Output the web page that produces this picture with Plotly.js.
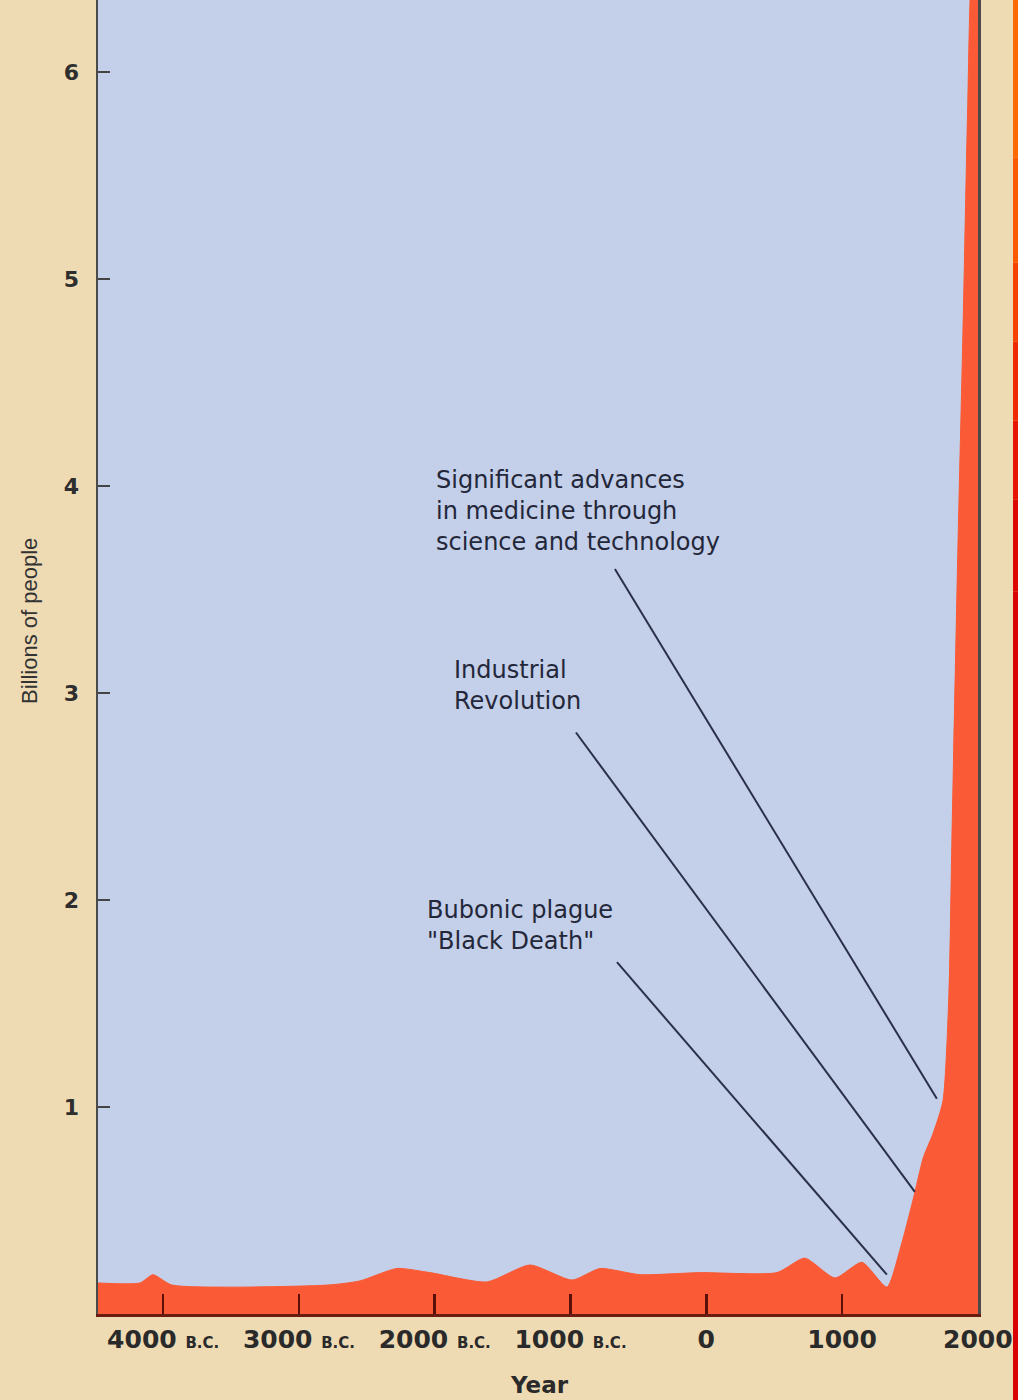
<!DOCTYPE html>
<html>
<head>
<meta charset="utf-8">
<script src="https://cdn.plot.ly/plotly-3.0.1.min.js"></script>
<style>
  html, body { margin: 0; padding: 0; background: #eedbb3; }
  #chart { width: 1018px; height: 1400px; }
</style>
</head>
<body>
<div id="chart"></div>
<script>
// ---- data ----
const years = [-4480, -4171, -4075, -3935, -2786, -2551, -2278, -2035, -1616, -1299, -989, -783, -489, -47, 520, 726, 947, 1146, 1330, 1426, 1522, 1600, 1669, 1743, 1787, 1809, 1853, 1890, 1926, 1956, 2001];
const population = [0.15, 0.15, 0.19, 0.14, 0.14, 0.16, 0.22, 0.20, 0.155, 0.237, 0.164, 0.22, 0.19, 0.20, 0.20, 0.27, 0.174, 0.25, 0.13, 0.31, 0.55, 0.76, 0.87, 1.03, 1.55, 2.3, 3.7, 4.74, 5.86, 6.5, 6.6];

const tickYears = [-4000, -3000, -2000, -1000, 0, 1000, 2000];
const tickNumbers = ['4000', '3000', '2000', '1000', '0', '1000', '2000'];
const tickEras = ['B.C.', 'B.C.', 'B.C.', 'B.C.', '', '', ''];
const yTicks = [1, 2, 3, 4, 5, 6];

const eventLabels = [
  'Significant advances<br>in medicine through<br>science and technology',
  'Industrial<br>Revolution',
  'Bubonic plague<br>"Black Death"'
];
const eventYears = [1698, 1536, 1330];
const eventValues = [1.04, 0.59, 0.19];

// ---- layout helpers (positions) ----
const labelPos = [ {x: -2004, y: 4.11}, {x: -1873, y: 3.19}, {x: -2072, y: 2.03} ];
const lineStart = [ {x: -673, y: 3.60}, {x: -960, y: 2.81}, {x: -658, y: 1.70} ];

const ticktext = tickNumbers.map((n, i) =>
  tickEras[i] ? n + ' <span style="font-size:15px">' + tickEras[i] + '</span>' : n);

const trace = {
  x: years, y: population, type: 'scatter', mode: 'lines',
  fill: 'tozeroy', fillcolor: '#fa5a35',
  line: { color: '#fa5a35', width: 1, shape: 'spline', smoothing: 0.6 },
  hoverinfo: 'skip'
};

const annotations = [];
const shapes = [];
eventLabels.forEach((t, i) => {
  annotations.push({
    x: labelPos[i].x, y: labelPos[i].y, xref: 'x', yref: 'y',
    xanchor: 'left', yanchor: 'top', align: 'left', showarrow: false,
    text: t, font: { family: 'DejaVu Sans', size: 24, color: '#23273a' }
  });
  shapes.push({
    type: 'line', xref: 'x', yref: 'y',
    x0: lineStart[i].x, y0: lineStart[i].y, x1: eventYears[i], y1: eventValues[i],
    line: { color: '#2a3048', width: 2 }, layer: 'above'
  });
});

annotations.push({
  x: -0.0773, y: 0.5274, xref: 'paper', yref: 'paper', textangle: -90,
  xanchor: 'center', yanchor: 'middle',
  showarrow: false, text: 'Billions of people',
  font: { family: 'Liberation Sans', size: 22, color: '#333' }
});
annotations.push({
  x: 0.502, y: -0.054, xref: 'paper', yref: 'paper', showarrow: false,
  xanchor: 'center', yanchor: 'middle',
  text: 'Year', font: { family: 'DejaVu Sans', size: 23, weight: 'bold', color: '#2a2a2a' }
});

// red/orange border strip at the right edge
const stripColors = ['#ff6a00', '#fb5a00', '#f54200', '#ee2a00', '#e61400', '#de0600', '#d80000'];
const stripTops = [1.0, 0.88, 0.80, 0.74, 0.68, 0.62, 0.55];
stripColors.forEach((c, i) => {
  shapes.push({
    type: 'rect', xref: 'paper', yref: 'paper',
    x0: 1.0398, x1: 1.07, y0: (i === stripColors.length - 1 ? -0.07 : stripTops[i + 1]), y1: stripTops[i],
    fillcolor: c, line: { width: 0 }, layer: 'above'
  });
});

const layout = {
  width: 1018, height: 1400,
  margin: { l: 98, r: 40, t: 0, b: 86 },
  paper_bgcolor: '#eedbb3', plot_bgcolor: '#c4cfe9',
  showlegend: false,
  xaxis: {
    range: [-4480, 2001], tickvals: tickYears, ticktext: ticktext,
    ticks: 'inside', ticklen: 20, tickwidth: 2.5, tickcolor: '#5a1008',
    showline: true, linecolor: '#6b1c10', linewidth: 2.5,
    showgrid: false, zeroline: false, fixedrange: true,
    tickfont: { family: 'DejaVu Sans', size: 25, weight: 'bold', color: '#2a2a2a' },
    ticklabelstandoff: 1
  },
  yaxis: {
    range: [0, 6.35], tickvals: yTicks,
    ticks: 'inside', ticklen: 12, tickwidth: 2, tickcolor: '#444',
    showline: true, linecolor: '#4a4a4a', linewidth: 2.5, mirror: true,
    showgrid: false, zeroline: false, fixedrange: true,
    tickfont: { family: 'DejaVu Sans', size: 22, weight: 'bold', color: '#2e2e2e' },
    ticklabelstandoff: 12
  },
  annotations: annotations,
  shapes: shapes
};

Plotly.newPlot('chart', [trace], layout, { displayModeBar: false, staticPlot: true });
</script>
</body>
</html>
